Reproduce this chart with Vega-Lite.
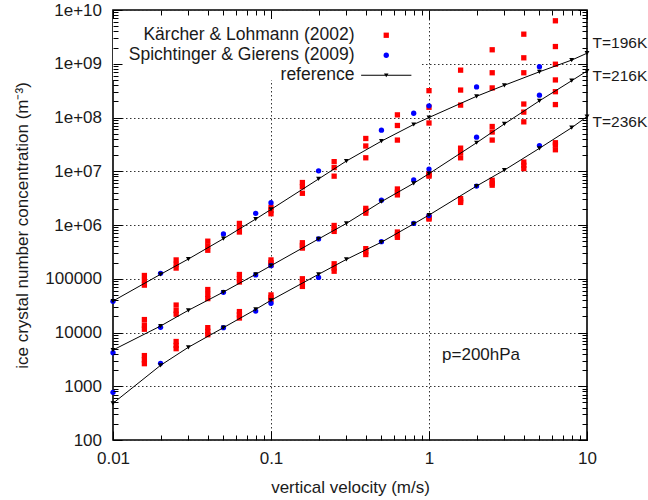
{
  "$schema": "https://vega.github.io/schema/vega-lite/v6.json",
  "width": 474,
  "height": 430,
  "autosize": {"type": "none"},
  "padding": {"left": 113, "top": 10, "right": 61, "bottom": 60},
  "config": {
    "font": "Liberation Sans",
    "view": {"stroke": "black", "strokeWidth": 1.6},
    "axis": {"domain": false, "labelFont": "Liberation Sans", "titleFont": "Liberation Sans", "labelColor": "#1a1a1a", "titleColor": "#1a1a1a", "tickColor": "black", "tickWidth": 1},
    "legend": {"labelFont": "Liberation Sans"},
    "text": {"font": "Liberation Sans"}
  },
  "datasets": {
    "obs": [
      {"s": "Kärcher & Lohmann (2002)", "T": "196K", "v": 0.0158, "n": 1.15e5},
      {"s": "Kärcher & Lohmann (2002)", "T": "196K", "v": 0.0158, "n": 9.3e4},
      {"s": "Kärcher & Lohmann (2002)", "T": "196K", "v": 0.0158, "n": 7.6e4},
      {"s": "Kärcher & Lohmann (2002)", "T": "196K", "v": 0.0251, "n": 2.24e5},
      {"s": "Kärcher & Lohmann (2002)", "T": "196K", "v": 0.0251, "n": 1.86e5},
      {"s": "Kärcher & Lohmann (2002)", "T": "196K", "v": 0.0251, "n": 1.58e5},
      {"s": "Kärcher & Lohmann (2002)", "T": "196K", "v": 0.0398, "n": 5.0e5},
      {"s": "Kärcher & Lohmann (2002)", "T": "196K", "v": 0.0398, "n": 4.07e5},
      {"s": "Kärcher & Lohmann (2002)", "T": "196K", "v": 0.0398, "n": 3.39e5},
      {"s": "Kärcher & Lohmann (2002)", "T": "196K", "v": 0.0631, "n": 1.07e6},
      {"s": "Kärcher & Lohmann (2002)", "T": "196K", "v": 0.0631, "n": 8.9e5},
      {"s": "Kärcher & Lohmann (2002)", "T": "196K", "v": 0.0631, "n": 7.4e5},
      {"s": "Kärcher & Lohmann (2002)", "T": "196K", "v": 0.1, "n": 2.14e6},
      {"s": "Kärcher & Lohmann (2002)", "T": "196K", "v": 0.1, "n": 1.86e6},
      {"s": "Kärcher & Lohmann (2002)", "T": "196K", "v": 0.1, "n": 1.62e6},
      {"s": "Kärcher & Lohmann (2002)", "T": "196K", "v": 0.158, "n": 6.17e6},
      {"s": "Kärcher & Lohmann (2002)", "T": "196K", "v": 0.158, "n": 5.13e6},
      {"s": "Kärcher & Lohmann (2002)", "T": "196K", "v": 0.158, "n": 3.89e6},
      {"s": "Kärcher & Lohmann (2002)", "T": "196K", "v": 0.251, "n": 1.51e7},
      {"s": "Kärcher & Lohmann (2002)", "T": "196K", "v": 0.251, "n": 1.17e7},
      {"s": "Kärcher & Lohmann (2002)", "T": "196K", "v": 0.251, "n": 8.1e6},
      {"s": "Kärcher & Lohmann (2002)", "T": "196K", "v": 0.398, "n": 4.07e7},
      {"s": "Kärcher & Lohmann (2002)", "T": "196K", "v": 0.398, "n": 2.95e7},
      {"s": "Kärcher & Lohmann (2002)", "T": "196K", "v": 0.398, "n": 1.78e7},
      {"s": "Kärcher & Lohmann (2002)", "T": "196K", "v": 0.631, "n": 1.12e8},
      {"s": "Kärcher & Lohmann (2002)", "T": "196K", "v": 0.631, "n": 7.1e7},
      {"s": "Kärcher & Lohmann (2002)", "T": "196K", "v": 0.631, "n": 3.8e7},
      {"s": "Kärcher & Lohmann (2002)", "T": "196K", "v": 1, "n": 3.16e8},
      {"s": "Kärcher & Lohmann (2002)", "T": "196K", "v": 1, "n": 1.55e8},
      {"s": "Kärcher & Lohmann (2002)", "T": "196K", "v": 1, "n": 7.9e7},
      {"s": "Kärcher & Lohmann (2002)", "T": "196K", "v": 1.585, "n": 7.6e8},
      {"s": "Kärcher & Lohmann (2002)", "T": "196K", "v": 1.585, "n": 3.24e8},
      {"s": "Kärcher & Lohmann (2002)", "T": "196K", "v": 1.585, "n": 1.7e8},
      {"s": "Kärcher & Lohmann (2002)", "T": "196K", "v": 2.512, "n": 1.82e9},
      {"s": "Kärcher & Lohmann (2002)", "T": "196K", "v": 2.512, "n": 6.8e8},
      {"s": "Kärcher & Lohmann (2002)", "T": "196K", "v": 2.512, "n": 3.55e8},
      {"s": "Kärcher & Lohmann (2002)", "T": "196K", "v": 3.981, "n": 3.55e9},
      {"s": "Kärcher & Lohmann (2002)", "T": "196K", "v": 3.981, "n": 1.29e9},
      {"s": "Kärcher & Lohmann (2002)", "T": "196K", "v": 3.981, "n": 6.8e8},
      {"s": "Kärcher & Lohmann (2002)", "T": "196K", "v": 6.31, "n": 6.3e9},
      {"s": "Kärcher & Lohmann (2002)", "T": "196K", "v": 6.31, "n": 2.09e9},
      {"s": "Kärcher & Lohmann (2002)", "T": "196K", "v": 6.31, "n": 9.8e8},
      {"s": "Kärcher & Lohmann (2002)", "T": "216K", "v": 0.0158, "n": 1.74e4},
      {"s": "Kärcher & Lohmann (2002)", "T": "216K", "v": 0.0158, "n": 1.38e4},
      {"s": "Kärcher & Lohmann (2002)", "T": "216K", "v": 0.0158, "n": 1.15e4},
      {"s": "Kärcher & Lohmann (2002)", "T": "216K", "v": 0.0251, "n": 3.24e4},
      {"s": "Kärcher & Lohmann (2002)", "T": "216K", "v": 0.0251, "n": 2.57e4},
      {"s": "Kärcher & Lohmann (2002)", "T": "216K", "v": 0.0251, "n": 2.19e4},
      {"s": "Kärcher & Lohmann (2002)", "T": "216K", "v": 0.0398, "n": 6.3e4},
      {"s": "Kärcher & Lohmann (2002)", "T": "216K", "v": 0.0398, "n": 5.13e4},
      {"s": "Kärcher & Lohmann (2002)", "T": "216K", "v": 0.0398, "n": 4.27e4},
      {"s": "Kärcher & Lohmann (2002)", "T": "216K", "v": 0.0631, "n": 1.2e5},
      {"s": "Kärcher & Lohmann (2002)", "T": "216K", "v": 0.0631, "n": 1.0e5},
      {"s": "Kärcher & Lohmann (2002)", "T": "216K", "v": 0.0631, "n": 8.7e4},
      {"s": "Kärcher & Lohmann (2002)", "T": "216K", "v": 0.1, "n": 2.24e5},
      {"s": "Kärcher & Lohmann (2002)", "T": "216K", "v": 0.1, "n": 2.0e5},
      {"s": "Kärcher & Lohmann (2002)", "T": "216K", "v": 0.1, "n": 1.82e5},
      {"s": "Kärcher & Lohmann (2002)", "T": "216K", "v": 0.158, "n": 4.68e5},
      {"s": "Kärcher & Lohmann (2002)", "T": "216K", "v": 0.158, "n": 4.17e5},
      {"s": "Kärcher & Lohmann (2002)", "T": "216K", "v": 0.158, "n": 3.72e5},
      {"s": "Kärcher & Lohmann (2002)", "T": "216K", "v": 0.251, "n": 9.8e5},
      {"s": "Kärcher & Lohmann (2002)", "T": "216K", "v": 0.251, "n": 8.5e5},
      {"s": "Kärcher & Lohmann (2002)", "T": "216K", "v": 0.251, "n": 7.6e5},
      {"s": "Kärcher & Lohmann (2002)", "T": "216K", "v": 0.398, "n": 2.04e6},
      {"s": "Kärcher & Lohmann (2002)", "T": "216K", "v": 0.398, "n": 1.86e6},
      {"s": "Kärcher & Lohmann (2002)", "T": "216K", "v": 0.398, "n": 1.66e6},
      {"s": "Kärcher & Lohmann (2002)", "T": "216K", "v": 0.631, "n": 4.68e6},
      {"s": "Kärcher & Lohmann (2002)", "T": "216K", "v": 0.631, "n": 4.07e6},
      {"s": "Kärcher & Lohmann (2002)", "T": "216K", "v": 0.631, "n": 3.63e6},
      {"s": "Kärcher & Lohmann (2002)", "T": "216K", "v": 1, "n": 8.9e6},
      {"s": "Kärcher & Lohmann (2002)", "T": "216K", "v": 1, "n": 8.5e6},
      {"s": "Kärcher & Lohmann (2002)", "T": "216K", "v": 1, "n": 8.1e6},
      {"s": "Kärcher & Lohmann (2002)", "T": "216K", "v": 1.585, "n": 2.69e7},
      {"s": "Kärcher & Lohmann (2002)", "T": "216K", "v": 1.585, "n": 2.24e7},
      {"s": "Kärcher & Lohmann (2002)", "T": "216K", "v": 1.585, "n": 1.78e7},
      {"s": "Kärcher & Lohmann (2002)", "T": "216K", "v": 2.512, "n": 6.8e7},
      {"s": "Kärcher & Lohmann (2002)", "T": "216K", "v": 2.512, "n": 5.37e7},
      {"s": "Kärcher & Lohmann (2002)", "T": "216K", "v": 2.512, "n": 3.8e7},
      {"s": "Kärcher & Lohmann (2002)", "T": "216K", "v": 3.981, "n": 1.78e8},
      {"s": "Kärcher & Lohmann (2002)", "T": "216K", "v": 3.981, "n": 1.26e8},
      {"s": "Kärcher & Lohmann (2002)", "T": "216K", "v": 3.981, "n": 8.3e7},
      {"s": "Kärcher & Lohmann (2002)", "T": "216K", "v": 6.31, "n": 5.0e8},
      {"s": "Kärcher & Lohmann (2002)", "T": "216K", "v": 6.31, "n": 3.02e8},
      {"s": "Kärcher & Lohmann (2002)", "T": "216K", "v": 6.31, "n": 1.74e8},
      {"s": "Kärcher & Lohmann (2002)", "T": "236K", "v": 0.0158, "n": 3.72e3},
      {"s": "Kärcher & Lohmann (2002)", "T": "236K", "v": 0.0158, "n": 3.09e3},
      {"s": "Kärcher & Lohmann (2002)", "T": "236K", "v": 0.0158, "n": 2.63e3},
      {"s": "Kärcher & Lohmann (2002)", "T": "236K", "v": 0.0251, "n": 6.8e3},
      {"s": "Kärcher & Lohmann (2002)", "T": "236K", "v": 0.0251, "n": 5.75e3},
      {"s": "Kärcher & Lohmann (2002)", "T": "236K", "v": 0.0251, "n": 5.0e3},
      {"s": "Kärcher & Lohmann (2002)", "T": "236K", "v": 0.0398, "n": 1.23e4},
      {"s": "Kärcher & Lohmann (2002)", "T": "236K", "v": 0.0398, "n": 1.05e4},
      {"s": "Kärcher & Lohmann (2002)", "T": "236K", "v": 0.0398, "n": 9.1e3},
      {"s": "Kärcher & Lohmann (2002)", "T": "236K", "v": 0.0631, "n": 2.45e4},
      {"s": "Kärcher & Lohmann (2002)", "T": "236K", "v": 0.0631, "n": 2.14e4},
      {"s": "Kärcher & Lohmann (2002)", "T": "236K", "v": 0.0631, "n": 1.86e4},
      {"s": "Kärcher & Lohmann (2002)", "T": "236K", "v": 0.1, "n": 5.0e4},
      {"s": "Kärcher & Lohmann (2002)", "T": "236K", "v": 0.1, "n": 4.47e4},
      {"s": "Kärcher & Lohmann (2002)", "T": "236K", "v": 0.1, "n": 4.07e4},
      {"s": "Kärcher & Lohmann (2002)", "T": "236K", "v": 0.158, "n": 1.0e5},
      {"s": "Kärcher & Lohmann (2002)", "T": "236K", "v": 0.158, "n": 8.5e4},
      {"s": "Kärcher & Lohmann (2002)", "T": "236K", "v": 0.158, "n": 7.2e4},
      {"s": "Kärcher & Lohmann (2002)", "T": "236K", "v": 0.251, "n": 1.9e5},
      {"s": "Kärcher & Lohmann (2002)", "T": "236K", "v": 0.251, "n": 1.58e5},
      {"s": "Kärcher & Lohmann (2002)", "T": "236K", "v": 0.251, "n": 1.38e5},
      {"s": "Kärcher & Lohmann (2002)", "T": "236K", "v": 0.398, "n": 3.63e5},
      {"s": "Kärcher & Lohmann (2002)", "T": "236K", "v": 0.398, "n": 3.16e5},
      {"s": "Kärcher & Lohmann (2002)", "T": "236K", "v": 0.398, "n": 2.82e5},
      {"s": "Kärcher & Lohmann (2002)", "T": "236K", "v": 0.631, "n": 7.4e5},
      {"s": "Kärcher & Lohmann (2002)", "T": "236K", "v": 0.631, "n": 6.5e5},
      {"s": "Kärcher & Lohmann (2002)", "T": "236K", "v": 0.631, "n": 5.9e5},
      {"s": "Kärcher & Lohmann (2002)", "T": "236K", "v": 1, "n": 1.41e6},
      {"s": "Kärcher & Lohmann (2002)", "T": "236K", "v": 1, "n": 1.35e6},
      {"s": "Kärcher & Lohmann (2002)", "T": "236K", "v": 1, "n": 1.29e6},
      {"s": "Kärcher & Lohmann (2002)", "T": "236K", "v": 1.585, "n": 3.09e6},
      {"s": "Kärcher & Lohmann (2002)", "T": "236K", "v": 1.585, "n": 2.82e6},
      {"s": "Kärcher & Lohmann (2002)", "T": "236K", "v": 1.585, "n": 2.63e6},
      {"s": "Kärcher & Lohmann (2002)", "T": "236K", "v": 2.512, "n": 6.8e6},
      {"s": "Kärcher & Lohmann (2002)", "T": "236K", "v": 2.512, "n": 6.0e6},
      {"s": "Kärcher & Lohmann (2002)", "T": "236K", "v": 2.512, "n": 5.5e6},
      {"s": "Kärcher & Lohmann (2002)", "T": "236K", "v": 3.981, "n": 1.48e7},
      {"s": "Kärcher & Lohmann (2002)", "T": "236K", "v": 3.981, "n": 1.29e7},
      {"s": "Kärcher & Lohmann (2002)", "T": "236K", "v": 3.981, "n": 1.12e7},
      {"s": "Kärcher & Lohmann (2002)", "T": "236K", "v": 6.31, "n": 3.39e7},
      {"s": "Kärcher & Lohmann (2002)", "T": "236K", "v": 6.31, "n": 3.09e7},
      {"s": "Kärcher & Lohmann (2002)", "T": "236K", "v": 6.31, "n": 2.51e7},
      {"s": "Spichtinger & Gierens (2009)", "T": "196K", "v": 0.01, "n": 3.8e4},
      {"s": "Spichtinger & Gierens (2009)", "T": "196K", "v": 0.02, "n": 1.26e5},
      {"s": "Spichtinger & Gierens (2009)", "T": "196K", "v": 0.05, "n": 6.8e5},
      {"s": "Spichtinger & Gierens (2009)", "T": "196K", "v": 0.08, "n": 1.65e6},
      {"s": "Spichtinger & Gierens (2009)", "T": "196K", "v": 0.1, "n": 2.6e6},
      {"s": "Spichtinger & Gierens (2009)", "T": "196K", "v": 0.2, "n": 1.02e7},
      {"s": "Spichtinger & Gierens (2009)", "T": "196K", "v": 0.5, "n": 5.8e7},
      {"s": "Spichtinger & Gierens (2009)", "T": "196K", "v": 0.8, "n": 1.2e8},
      {"s": "Spichtinger & Gierens (2009)", "T": "196K", "v": 1, "n": 1.65e8},
      {"s": "Spichtinger & Gierens (2009)", "T": "196K", "v": 2, "n": 3.7e8},
      {"s": "Spichtinger & Gierens (2009)", "T": "196K", "v": 5, "n": 8.8e8},
      {"s": "Spichtinger & Gierens (2009)", "T": "216K", "v": 0.01, "n": 4.2e3},
      {"s": "Spichtinger & Gierens (2009)", "T": "216K", "v": 0.02, "n": 1.25e4},
      {"s": "Spichtinger & Gierens (2009)", "T": "216K", "v": 0.05, "n": 5.6e4},
      {"s": "Spichtinger & Gierens (2009)", "T": "216K", "v": 0.08, "n": 1.18e5},
      {"s": "Spichtinger & Gierens (2009)", "T": "216K", "v": 0.1, "n": 1.75e5},
      {"s": "Spichtinger & Gierens (2009)", "T": "216K", "v": 0.2, "n": 5.5e5},
      {"s": "Spichtinger & Gierens (2009)", "T": "216K", "v": 0.5, "n": 2.9e6},
      {"s": "Spichtinger & Gierens (2009)", "T": "216K", "v": 0.8, "n": 6.9e6},
      {"s": "Spichtinger & Gierens (2009)", "T": "216K", "v": 1, "n": 1.1e7},
      {"s": "Spichtinger & Gierens (2009)", "T": "216K", "v": 2, "n": 4.3e7},
      {"s": "Spichtinger & Gierens (2009)", "T": "216K", "v": 5, "n": 2.6e8},
      {"s": "Spichtinger & Gierens (2009)", "T": "236K", "v": 0.01, "n": 770},
      {"s": "Spichtinger & Gierens (2009)", "T": "236K", "v": 0.02, "n": 2.67e3},
      {"s": "Spichtinger & Gierens (2009)", "T": "236K", "v": 0.05, "n": 1.23e4},
      {"s": "Spichtinger & Gierens (2009)", "T": "236K", "v": 0.08, "n": 2.5e4},
      {"s": "Spichtinger & Gierens (2009)", "T": "236K", "v": 0.1, "n": 3.5e4},
      {"s": "Spichtinger & Gierens (2009)", "T": "236K", "v": 0.2, "n": 1.06e5},
      {"s": "Spichtinger & Gierens (2009)", "T": "236K", "v": 0.5, "n": 4.9e5},
      {"s": "Spichtinger & Gierens (2009)", "T": "236K", "v": 0.8, "n": 1.07e6},
      {"s": "Spichtinger & Gierens (2009)", "T": "236K", "v": 1, "n": 1.5e6},
      {"s": "Spichtinger & Gierens (2009)", "T": "236K", "v": 2, "n": 5.3e6},
      {"s": "Spichtinger & Gierens (2009)", "T": "236K", "v": 5, "n": 3.0e7}
    ],
    "ref": [
      {"T": "196K", "v": 0.01, "n": 3.85e4}, {"T": "196K", "v": 0.02, "n": 1.21e5}, {"T": "196K", "v": 0.03, "n": 2.33e5}, {"T": "196K", "v": 0.05, "n": 5.56e5},
      {"T": "196K", "v": 0.08, "n": 1.29e6}, {"T": "196K", "v": 0.1, "n": 1.95e6}, {"T": "196K", "v": 0.2, "n": 7.18e6}, {"T": "196K", "v": 0.3, "n": 1.55e7},
      {"T": "196K", "v": 0.5, "n": 3.63e7}, {"T": "196K", "v": 0.8, "n": 7.41e7}, {"T": "196K", "v": 1, "n": 1.0e8}, {"T": "196K", "v": 2, "n": 2.48e8},
      {"T": "196K", "v": 3, "n": 3.98e8}, {"T": "196K", "v": 5, "n": 7.08e8}, {"T": "196K", "v": 8, "n": 1.17e9}, {"T": "196K", "v": 10, "n": 1.57e9},
      {"T": "216K", "v": 0.01, "n": 4.72e3}, {"T": "216K", "v": 0.02, "n": 1.32e4}, {"T": "216K", "v": 0.03, "n": 2.59e4}, {"T": "216K", "v": 0.05, "n": 5.66e4},
      {"T": "216K", "v": 0.08, "n": 1.21e5}, {"T": "216K", "v": 0.1, "n": 1.75e5}, {"T": "216K", "v": 0.2, "n": 5.5e5}, {"T": "216K", "v": 0.3, "n": 1.07e6},
      {"T": "216K", "v": 0.5, "n": 2.72e6}, {"T": "216K", "v": 0.8, "n": 5.97e6}, {"T": "216K", "v": 1, "n": 9.0e6}, {"T": "216K", "v": 2, "n": 3.39e7},
      {"T": "216K", "v": 3, "n": 7.59e7}, {"T": "216K", "v": 5, "n": 2.04e8}, {"T": "216K", "v": 8, "n": 4.84e8}, {"T": "216K", "v": 10, "n": 7.33e8},
      {"T": "236K", "v": 0.01, "n": 482}, {"T": "236K", "v": 0.02, "n": 2.45e3}, {"T": "236K", "v": 0.03, "n": 5.31e3}, {"T": "236K", "v": 0.05, "n": 1.23e4},
      {"T": "236K", "v": 0.08, "n": 2.69e4}, {"T": "236K", "v": 0.1, "n": 3.98e4}, {"T": "236K", "v": 0.2, "n": 1.21e5}, {"T": "236K", "v": 0.3, "n": 2.29e5},
      {"T": "236K", "v": 0.5, "n": 4.79e5}, {"T": "236K", "v": 0.8, "n": 1.05e6}, {"T": "236K", "v": 1, "n": 1.53e6}, {"T": "236K", "v": 2, "n": 5.31e6},
      {"T": "236K", "v": 3, "n": 1.05e7}, {"T": "236K", "v": 5, "n": 2.67e7}, {"T": "236K", "v": 8, "n": 6.46e7}, {"T": "236K", "v": 10, "n": 1.04e8}
    ],
    "tlabels": [
      {"v": 10, "n": 2.43e9, "label": "T=196K"},
      {"v": 10, "n": 5.9e8, "label": "T=216K"},
      {"v": 10, "n": 8.35e7, "label": "T=236K"}
    ],
    "note": [
      {"v": 1.21, "n": 3.8e3, "label": "p=200hPa"}
    ]
  },
  "layer": [
    {
      "data": {"values": [{}]},
      "mark": {"type": "rect", "fill": "white", "stroke": null},
      "encoding": {
        "x": {"datum": 0.01, "type": "quantitative", "scale": {"type": "log", "domain": [0.01, 10], "nice": false}, "axis": null},
        "x2": {"datum": 0.88},
        "y": {"datum": 5.0e8, "type": "quantitative", "scale": {"type": "log", "domain": [100, 1e10], "nice": false}, "axis": null},
        "y2": {"datum": 6.8e9}
      }
    },
    {
      "data": {"name": "obs"},
      "mark": {"type": "point", "filled": true, "opacity": 1, "size": 28, "strokeWidth": 0},
      "encoding": {
        "x": {
          "field": "v", "type": "quantitative",
          "scale": {"type": "log", "domain": [0.01, 10], "nice": false},
          "axis": {
            "orient": "bottom",
            "zindex": 1,
            "values": [0.01,0.02,0.03,0.04,0.05,0.06,0.07,0.08,0.09,0.1,0.2,0.3,0.4,0.5,0.6,0.7,0.8,0.9,1,2,3,4,5,6,7,8,9,10],
            "labelExpr": "abs(log(datum.value)/LN10 - round(log(datum.value)/LN10)) < 0.001 ? '' + datum.value : ''",
            "tickSize": {"condition": {"test": "abs(log(datum.value)/LN10 - round(log(datum.value)/LN10)) < 0.001", "value": -9}, "value": -5},
            "grid": false,
            "labelFontSize": 17,
            "labelPadding": 19,
            "labelFlush": false,
            "labelOverlap": false,
            "labelBound": false,
            "title": "vertical velocity (m/s)",
            "titleFontSize": 17,
            "titleFontWeight": "normal",
            "titleY": 47,
            "titleBaseline": "middle"
          }
        },
        "y": {
          "field": "n", "type": "quantitative",
          "scale": {"type": "log", "domain": [100, 1e10], "nice": false},
          "axis": {
            "orient": "left",
            "zindex": 1,
            "values": [1e2,2e2,3e2,4e2,5e2,6e2,7e2,8e2,9e2,1e3,2e3,3e3,4e3,5e3,6e3,7e3,8e3,9e3,1e4,2e4,3e4,4e4,5e4,6e4,7e4,8e4,9e4,1e5,2e5,3e5,4e5,5e5,6e5,7e5,8e5,9e5,1e6,2e6,3e6,4e6,5e6,6e6,7e6,8e6,9e6,1e7,2e7,3e7,4e7,5e7,6e7,7e7,8e7,9e7,1e8,2e8,3e8,4e8,5e8,6e8,7e8,8e8,9e8,1e9,2e9,3e9,4e9,5e9,6e9,7e9,8e9,9e9,1e10],
            "labelExpr": "abs(log(datum.value)/LN10 - round(log(datum.value)/LN10)) < 0.001 ? (datum.value >= 1e6 ? '1e+' + (round(log(datum.value)/LN10) < 10 ? '0' : '') + round(log(datum.value)/LN10) : format(datum.value, 'd')) : ''",
            "tickSize": {"condition": {"test": "abs(log(datum.value)/LN10 - round(log(datum.value)/LN10)) < 0.001", "value": -9}, "value": -5},
            "grid": false,
            "labelFontSize": 17,
            "labelPadding": 20.5,
            "labelFlush": false,
            "labelOverlap": false,
            "labelBound": false,
            "title": "ice crystal number concentration (m⁻³)",
            "titleFontSize": 17,
            "titleFontWeight": "normal",
            "titleX": -91,
            "titleY": 215,
            "titleAngle": -90,
            "titleAlign": "center",
            "titleBaseline": "middle"
          }
        },
        "color": {
          "field": "s", "type": "nominal",
          "scale": {"domain": ["Kärcher & Lohmann (2002)", "Spichtinger & Gierens (2009)", "reference"], "range": ["#ff0000", "#0000ff", "#000000"]},
          "legend": {
            "orient": "none", "legendX": 264.5, "legendY": 16.5, "title": null,
            "labelFontSize": 17.5, "labelAlign": "right", "labelOffset": -40.5, "labelLimit": 0,
            "labelColor": "#1a1a1a", "symbolSize": 28, "symbolStrokeWidth": 0, "rowPadding": 1, "padding": 0
          }
        },
        "shape": {
          "field": "s", "type": "nominal",
          "scale": {"domain": ["Kärcher & Lohmann (2002)", "Spichtinger & Gierens (2009)", "reference"], "range": ["square", "circle", "M-9.5,-0.19H9.5V0.19H-9.5Z M-0.85,-0.66H0.85L0,0.76Z"]},
          "legend": {
            "orient": "none", "legendX": 264.5, "legendY": 16.5, "title": null,
            "labelFontSize": 17.5, "labelAlign": "right", "labelOffset": -40.5, "labelLimit": 0,
            "labelColor": "#1a1a1a", "symbolSize": 28, "symbolStrokeWidth": 0, "rowPadding": 1, "padding": 0
          }
        }
      }
    },
    {
      "data": {"name": "ref"},
      "mark": {"type": "line", "color": "black", "strokeWidth": 1},
      "encoding": {
        "x": {
          "field": "v", "type": "quantitative",
          "scale": {"type": "log", "domain": [0.01, 10], "nice": false},
          "axis": {
            "orient": "top",
            "zindex": 0,
            "values": [0.01,0.02,0.03,0.04,0.05,0.06,0.07,0.08,0.09,0.1,0.2,0.3,0.4,0.5,0.6,0.7,0.8,0.9,1,2,3,4,5,6,7,8,9,10],
            "labels": false, "title": null,
            "tickSize": {"condition": {"test": "abs(log(datum.value)/LN10 - round(log(datum.value)/LN10)) < 0.001", "value": -9}, "value": -5},
            "grid": true,
            "gridColor": "#333",
            "gridDash": [1.5, 2.5],
            "gridWidth": 1,
            "gridOpacity": {"condition": {"test": "abs(log(datum.value)/LN10 - round(log(datum.value)/LN10)) < 0.001", "value": 1}, "value": 0}
          }
        },
        "y": {
          "field": "n", "type": "quantitative",
          "scale": {"type": "log", "domain": [100, 1e10], "nice": false},
          "axis": {
            "orient": "right",
            "zindex": 0,
            "values": [1e2,2e2,3e2,4e2,5e2,6e2,7e2,8e2,9e2,1e3,2e3,3e3,4e3,5e3,6e3,7e3,8e3,9e3,1e4,2e4,3e4,4e4,5e4,6e4,7e4,8e4,9e4,1e5,2e5,3e5,4e5,5e5,6e5,7e5,8e5,9e5,1e6,2e6,3e6,4e6,5e6,6e6,7e6,8e6,9e6,1e7,2e7,3e7,4e7,5e7,6e7,7e7,8e7,9e7,1e8,2e8,3e8,4e8,5e8,6e8,7e8,8e8,9e8,1e9,2e9,3e9,4e9,5e9,6e9,7e9,8e9,9e9,1e10],
            "labels": false, "title": null,
            "tickSize": {"condition": {"test": "abs(log(datum.value)/LN10 - round(log(datum.value)/LN10)) < 0.001", "value": -9}, "value": -5},
            "grid": true,
            "gridColor": "#333",
            "gridDash": [1.5, 2.5],
            "gridWidth": 1,
            "gridOpacity": {"condition": {"test": "abs(log(datum.value)/LN10 - round(log(datum.value)/LN10)) < 0.001", "value": 1}, "value": 0}
          }
        },
        "detail": {"field": "T", "type": "nominal"},
        "order": {"field": "v", "type": "quantitative"}
      }
    },
    {
      "data": {"name": "ref"},
      "mark": {"type": "point", "filled": true, "opacity": 1, "shape": "triangle-down", "size": 24, "color": "black", "strokeWidth": 0},
      "encoding": {
        "x": {"field": "v", "type": "quantitative", "scale": {"type": "log", "domain": [0.01, 10], "nice": false}, "axis": null},
        "y": {"field": "n", "type": "quantitative", "scale": {"type": "log", "domain": [100, 1e10], "nice": false}, "axis": null}
      }
    },
    {
      "data": {"name": "tlabels"},
      "mark": {"type": "text", "align": "left", "baseline": "middle", "dx": 5.5, "fontSize": 15.5, "color": "#1a1a1a"},
      "encoding": {
        "x": {"field": "v", "type": "quantitative", "scale": {"type": "log", "domain": [0.01, 10], "nice": false}, "axis": null},
        "y": {"field": "n", "type": "quantitative", "scale": {"type": "log", "domain": [100, 1e10], "nice": false}, "axis": null},
        "text": {"field": "label"}
      }
    },
    {
      "data": {"name": "note"},
      "mark": {"type": "text", "align": "left", "baseline": "middle", "fontSize": 17, "color": "#1a1a1a"},
      "encoding": {
        "x": {"field": "v", "type": "quantitative", "scale": {"type": "log", "domain": [0.01, 10], "nice": false}, "axis": null},
        "y": {"field": "n", "type": "quantitative", "scale": {"type": "log", "domain": [100, 1e10], "nice": false}, "axis": null},
        "text": {"field": "label"}
      }
    }
  ],
  "resolve": {"axis": {"x": "independent", "y": "independent"}}
}
